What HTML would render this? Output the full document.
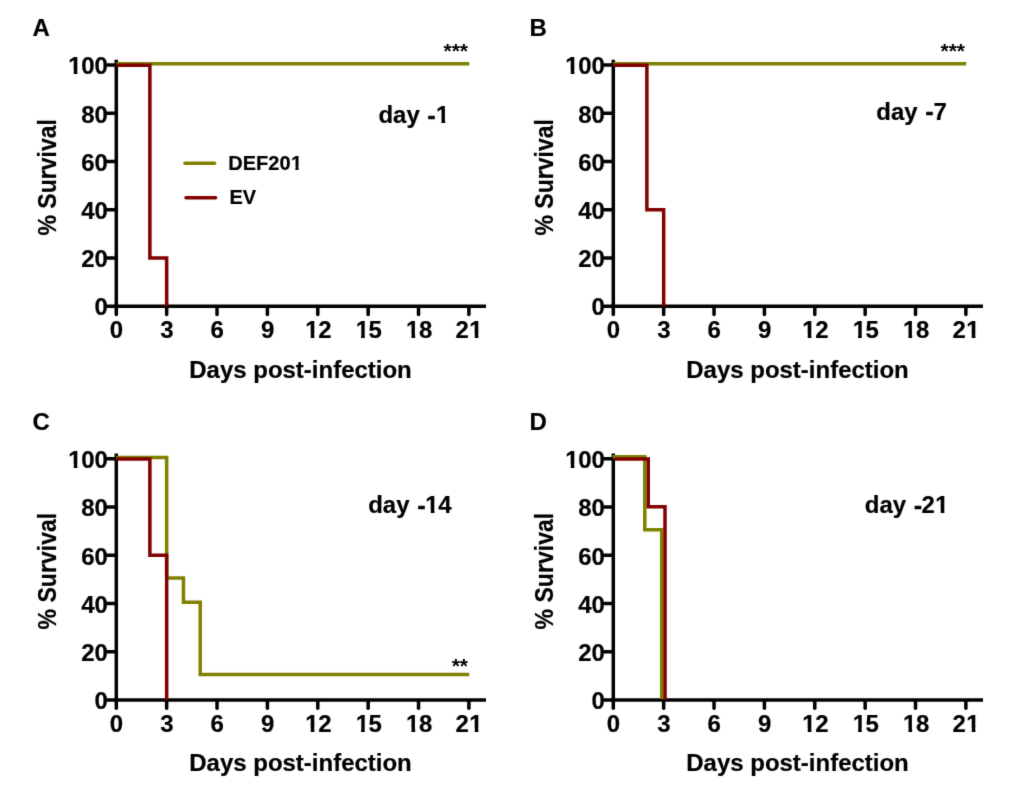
<!DOCTYPE html>
<html lang="en"><head><meta charset="utf-8"><title>Survival curves</title>
<style>
html,body{margin:0;padding:0;background:#fff;}
svg{display:block;will-change:transform;}
text{font-family:"Liberation Sans",Arial,Helvetica,sans-serif;font-weight:bold;font-size:24px;fill:#000;stroke:#000;stroke-width:0.2px;stroke-linejoin:round;}
text.s21{font-size:21px;stroke:none}tspan.hy{stroke-width:0.6px}text.s20{font-size:20px}
</style></head><body>
<svg width="1024" height="801" viewBox="0 0 1024 801">
<defs><filter id="soft" x="0" y="0" width="1024" height="801" filterUnits="userSpaceOnUse" color-interpolation-filters="sRGB"><feConvolveMatrix order="3" kernelMatrix="0.01134 0.08382 0.01134 0.08382 0.61935 0.08382 0.01134 0.08382 0.01134" edgeMode="duplicate" preserveAlpha="false"/></filter></defs>
<rect width="1024" height="801" fill="#fff"/>
<g filter="url(#soft)">
<rect width="1024" height="801" fill="#fff"/>
<g transform="translate(0,0)"><g fill="none" stroke="#000" stroke-width="3.5"><path d="M116.30,59.8V306.20"/><path d="M114.60,306.20H486"/><path d="M107.3,306.20H115.30" stroke-linecap="round"/><path d="M107.3,257.94H115.30" stroke-linecap="round"/><path d="M107.3,209.68H115.30" stroke-linecap="round"/><path d="M107.3,161.42H115.30" stroke-linecap="round"/><path d="M107.3,113.16H115.30" stroke-linecap="round"/><path d="M107.3,64.90H115.30" stroke-linecap="round"/><path d="M116.30,307.20V314.4" stroke-linecap="round"/><path d="M166.67,307.20V314.4" stroke-linecap="round"/><path d="M217.04,307.20V314.4" stroke-linecap="round"/><path d="M267.41,307.20V314.4" stroke-linecap="round"/><path d="M317.78,307.20V314.4" stroke-linecap="round"/><path d="M368.15,307.20V314.4" stroke-linecap="round"/><path d="M418.52,307.20V314.4" stroke-linecap="round"/><path d="M468.89,307.20V314.4" stroke-linecap="round"/></g><text transform="translate(107.90,315.10) scale(1,1.035)" text-anchor="end">0</text><text transform="translate(107.90,267.34) scale(1,1.035)" text-anchor="end">20</text><text transform="translate(107.90,219.08) scale(1,1.035)" text-anchor="end">40</text><text transform="translate(107.90,170.82) scale(1,1.035)" text-anchor="end">60</text><text transform="translate(107.90,122.56) scale(1,1.035)" text-anchor="end">80</text><text transform="translate(107.45,74.10) scale(1,1.035)" text-anchor="end"><tspan dx="0.45">1</tspan><tspan dx="-0.45">00</tspan></text><text transform="translate(116.50,338.15) scale(1,1.035)" text-anchor="middle">0</text><text transform="translate(166.87,338.15) scale(1,1.035)" text-anchor="middle">3</text><text transform="translate(217.24,338.15) scale(1,1.035)" text-anchor="middle">6</text><text transform="translate(267.61,338.15) scale(1,1.035)" text-anchor="middle">9</text><text transform="translate(317.98,338.15) scale(1,1.035)" text-anchor="middle"><tspan dx="0.45">1</tspan><tspan dx="-0.45">2</tspan></text><text transform="translate(368.35,338.15) scale(1,1.035)" text-anchor="middle"><tspan dx="0.45">1</tspan><tspan dx="-0.45">5</tspan></text><text transform="translate(418.72,338.15) scale(1,1.035)" text-anchor="middle"><tspan dx="0.45">1</tspan><tspan dx="-0.45">8</tspan></text><text transform="translate(469.09,338.15) scale(1,1.035)" text-anchor="middle">2<tspan dx="0.45">1</tspan></text><text transform="translate(300.50,377.60) scale(1,1.035)" text-anchor="middle">Days post-infection</text><text transform="translate(55.9,177.3) rotate(-90) scale(0.961,1.06)" text-anchor="middle">% Survival</text><path d="M116.13,63.80L469.23,63.80" fill="none" stroke="#808000" stroke-width="3.5" stroke-linejoin="miter"/><path d="M116.13,65.15L149.88,65.15L149.88,257.94L166.67,257.94L166.67,306.20" fill="none" stroke="#800000" stroke-width="3.5" stroke-linejoin="miter"/><text transform="translate(32.60,36.20) scale(1,1.01)">A</text><text transform="translate(378.40,123.20) scale(1,1.035)">day <tspan class="hy" dx="1.2" dy="0.6">-</tspan><tspan dx="0.45" dy="-0.6">1</tspan></text><text transform="translate(468.00,57.60) scale(1,1.0)" text-anchor="end" class="s21">***</text><path d="M185,163.2H214.6" stroke="#808000" stroke-width="3.5" stroke-linecap="round" fill="none"/><path d="M186,197.7H215.6" stroke="#800000" stroke-width="3.5" stroke-linecap="round" fill="none"/><text transform="translate(228.30,170.00) scale(1,1.035)" class="s20">DEF20<tspan dx="0.4">1</tspan></text><text transform="translate(229.50,204.20) scale(1,1.035)" class="s20">EV</text></g>
<g transform="translate(497.0,0)"><g fill="none" stroke="#000" stroke-width="3.5"><path d="M116.30,59.8V306.20"/><path d="M114.60,306.20H486"/><path d="M107.3,306.20H115.30" stroke-linecap="round"/><path d="M107.3,257.94H115.30" stroke-linecap="round"/><path d="M107.3,209.68H115.30" stroke-linecap="round"/><path d="M107.3,161.42H115.30" stroke-linecap="round"/><path d="M107.3,113.16H115.30" stroke-linecap="round"/><path d="M107.3,64.90H115.30" stroke-linecap="round"/><path d="M116.30,307.20V314.4" stroke-linecap="round"/><path d="M166.67,307.20V314.4" stroke-linecap="round"/><path d="M217.04,307.20V314.4" stroke-linecap="round"/><path d="M267.41,307.20V314.4" stroke-linecap="round"/><path d="M317.78,307.20V314.4" stroke-linecap="round"/><path d="M368.15,307.20V314.4" stroke-linecap="round"/><path d="M418.52,307.20V314.4" stroke-linecap="round"/><path d="M468.89,307.20V314.4" stroke-linecap="round"/></g><text transform="translate(107.90,315.10) scale(1,1.035)" text-anchor="end">0</text><text transform="translate(107.90,267.34) scale(1,1.035)" text-anchor="end">20</text><text transform="translate(107.90,219.08) scale(1,1.035)" text-anchor="end">40</text><text transform="translate(107.90,170.82) scale(1,1.035)" text-anchor="end">60</text><text transform="translate(107.90,122.56) scale(1,1.035)" text-anchor="end">80</text><text transform="translate(107.45,74.10) scale(1,1.035)" text-anchor="end"><tspan dx="0.45">1</tspan><tspan dx="-0.45">00</tspan></text><text transform="translate(116.50,338.15) scale(1,1.035)" text-anchor="middle">0</text><text transform="translate(166.87,338.15) scale(1,1.035)" text-anchor="middle">3</text><text transform="translate(217.24,338.15) scale(1,1.035)" text-anchor="middle">6</text><text transform="translate(267.61,338.15) scale(1,1.035)" text-anchor="middle">9</text><text transform="translate(317.98,338.15) scale(1,1.035)" text-anchor="middle"><tspan dx="0.45">1</tspan><tspan dx="-0.45">2</tspan></text><text transform="translate(368.35,338.15) scale(1,1.035)" text-anchor="middle"><tspan dx="0.45">1</tspan><tspan dx="-0.45">5</tspan></text><text transform="translate(418.72,338.15) scale(1,1.035)" text-anchor="middle"><tspan dx="0.45">1</tspan><tspan dx="-0.45">8</tspan></text><text transform="translate(469.09,338.15) scale(1,1.035)" text-anchor="middle">2<tspan dx="0.45">1</tspan></text><text transform="translate(300.50,377.60) scale(1,1.035)" text-anchor="middle">Days post-infection</text><text transform="translate(55.9,177.3) rotate(-90) scale(0.961,1.06)" text-anchor="middle">% Survival</text><path d="M116.13,63.80L469.23,63.80" fill="none" stroke="#808000" stroke-width="3.5" stroke-linejoin="miter"/><path d="M116.13,65.15L149.88,65.15L149.88,209.68L166.67,209.68L166.67,306.20" fill="none" stroke="#800000" stroke-width="3.5" stroke-linejoin="miter"/><text transform="translate(32.60,36.20) scale(1,1.01)">B</text><text transform="translate(379.30,119.60) scale(1,1.035)">day <tspan class="hy" dx="1.1" dy="0.6">-</tspan><tspan dy="-0.6">7</tspan></text><text transform="translate(468.00,57.60) scale(1,1.0)" text-anchor="end" class="s21">***</text></g>
<g transform="translate(0,393.8)"><g fill="none" stroke="#000" stroke-width="3.5"><path d="M116.30,59.8V306.20"/><path d="M114.60,306.20H486"/><path d="M107.3,306.20H115.30" stroke-linecap="round"/><path d="M107.3,257.94H115.30" stroke-linecap="round"/><path d="M107.3,209.68H115.30" stroke-linecap="round"/><path d="M107.3,161.42H115.30" stroke-linecap="round"/><path d="M107.3,113.16H115.30" stroke-linecap="round"/><path d="M107.3,64.90H115.30" stroke-linecap="round"/><path d="M116.30,307.20V314.4" stroke-linecap="round"/><path d="M166.67,307.20V314.4" stroke-linecap="round"/><path d="M217.04,307.20V314.4" stroke-linecap="round"/><path d="M267.41,307.20V314.4" stroke-linecap="round"/><path d="M317.78,307.20V314.4" stroke-linecap="round"/><path d="M368.15,307.20V314.4" stroke-linecap="round"/><path d="M418.52,307.20V314.4" stroke-linecap="round"/><path d="M468.89,307.20V314.4" stroke-linecap="round"/></g><text transform="translate(107.90,315.10) scale(1,1.035)" text-anchor="end">0</text><text transform="translate(107.90,267.34) scale(1,1.035)" text-anchor="end">20</text><text transform="translate(107.90,219.08) scale(1,1.035)" text-anchor="end">40</text><text transform="translate(107.90,170.82) scale(1,1.035)" text-anchor="end">60</text><text transform="translate(107.90,122.56) scale(1,1.035)" text-anchor="end">80</text><text transform="translate(107.45,74.10) scale(1,1.035)" text-anchor="end"><tspan dx="0.45">1</tspan><tspan dx="-0.45">00</tspan></text><text transform="translate(116.50,338.15) scale(1,1.035)" text-anchor="middle">0</text><text transform="translate(166.87,338.15) scale(1,1.035)" text-anchor="middle">3</text><text transform="translate(217.24,338.15) scale(1,1.035)" text-anchor="middle">6</text><text transform="translate(267.61,338.15) scale(1,1.035)" text-anchor="middle">9</text><text transform="translate(317.98,338.15) scale(1,1.035)" text-anchor="middle"><tspan dx="0.45">1</tspan><tspan dx="-0.45">2</tspan></text><text transform="translate(368.35,338.15) scale(1,1.035)" text-anchor="middle"><tspan dx="0.45">1</tspan><tspan dx="-0.45">5</tspan></text><text transform="translate(418.72,338.15) scale(1,1.035)" text-anchor="middle"><tspan dx="0.45">1</tspan><tspan dx="-0.45">8</tspan></text><text transform="translate(469.09,338.15) scale(1,1.035)" text-anchor="middle">2<tspan dx="0.45">1</tspan></text><text transform="translate(300.50,377.60) scale(1,1.035)" text-anchor="middle">Days post-infection</text><text transform="translate(55.9,177.3) rotate(-90) scale(0.961,1.06)" text-anchor="middle">% Survival</text><path d="M116.13,63.60L166.67,63.60L166.67,184.25L183.46,184.25L183.46,208.38L200.25,208.38L200.25,280.77L469.23,280.77" fill="none" stroke="#808000" stroke-width="3.5" stroke-linejoin="miter"/><path d="M116.13,65.15L149.88,65.15L149.88,161.42L166.67,161.42L166.67,306.20" fill="none" stroke="#800000" stroke-width="3.5" stroke-linejoin="miter"/><text transform="translate(32.60,36.20) scale(1,1.01)">C</text><text transform="translate(368.20,119.30) scale(1,1.035)">day <tspan class="hy" dx="1.3" dy="0.6">-</tspan><tspan dx="-0.15" dy="-0.6">1</tspan><tspan dx="-0.45">4</tspan></text><text transform="translate(468.00,279.10) scale(1,1.0)" text-anchor="end" class="s21">**</text></g>
<g transform="translate(497.0,393.8)"><g fill="none" stroke="#000" stroke-width="3.5"><path d="M116.30,59.8V306.20"/><path d="M114.60,306.20H486"/><path d="M107.3,306.20H115.30" stroke-linecap="round"/><path d="M107.3,257.94H115.30" stroke-linecap="round"/><path d="M107.3,209.68H115.30" stroke-linecap="round"/><path d="M107.3,161.42H115.30" stroke-linecap="round"/><path d="M107.3,113.16H115.30" stroke-linecap="round"/><path d="M107.3,64.90H115.30" stroke-linecap="round"/><path d="M116.30,307.20V314.4" stroke-linecap="round"/><path d="M166.67,307.20V314.4" stroke-linecap="round"/><path d="M217.04,307.20V314.4" stroke-linecap="round"/><path d="M267.41,307.20V314.4" stroke-linecap="round"/><path d="M317.78,307.20V314.4" stroke-linecap="round"/><path d="M368.15,307.20V314.4" stroke-linecap="round"/><path d="M418.52,307.20V314.4" stroke-linecap="round"/><path d="M468.89,307.20V314.4" stroke-linecap="round"/></g><text transform="translate(107.90,315.10) scale(1,1.035)" text-anchor="end">0</text><text transform="translate(107.90,267.34) scale(1,1.035)" text-anchor="end">20</text><text transform="translate(107.90,219.08) scale(1,1.035)" text-anchor="end">40</text><text transform="translate(107.90,170.82) scale(1,1.035)" text-anchor="end">60</text><text transform="translate(107.90,122.56) scale(1,1.035)" text-anchor="end">80</text><text transform="translate(107.45,74.10) scale(1,1.035)" text-anchor="end"><tspan dx="0.45">1</tspan><tspan dx="-0.45">00</tspan></text><text transform="translate(116.50,338.15) scale(1,1.035)" text-anchor="middle">0</text><text transform="translate(166.87,338.15) scale(1,1.035)" text-anchor="middle">3</text><text transform="translate(217.24,338.15) scale(1,1.035)" text-anchor="middle">6</text><text transform="translate(267.61,338.15) scale(1,1.035)" text-anchor="middle">9</text><text transform="translate(317.98,338.15) scale(1,1.035)" text-anchor="middle"><tspan dx="0.45">1</tspan><tspan dx="-0.45">2</tspan></text><text transform="translate(368.35,338.15) scale(1,1.035)" text-anchor="middle"><tspan dx="0.45">1</tspan><tspan dx="-0.45">5</tspan></text><text transform="translate(418.72,338.15) scale(1,1.035)" text-anchor="middle"><tspan dx="0.45">1</tspan><tspan dx="-0.45">8</tspan></text><text transform="translate(469.09,338.15) scale(1,1.035)" text-anchor="middle">2<tspan dx="0.45">1</tspan></text><text transform="translate(300.50,377.60) scale(1,1.035)" text-anchor="middle">Days post-infection</text><text transform="translate(55.9,177.3) rotate(-90) scale(0.961,1.06)" text-anchor="middle">% Survival</text><path d="M115.60,62.90H147.80V135.90H164.70V305.10" fill="none" stroke="#808000" stroke-width="3.5"/><path d="M117.40,65.20H151.25V112.95H168.00V306.20" fill="none" stroke="#800000" stroke-width="3.5"/><text transform="translate(32.60,36.20) scale(1,1.01)">D</text><text transform="translate(367.80,119.30) scale(1,1.035)">day <tspan class="hy" dx="1.2" dy="0.6">-</tspan><tspan dx="-0.50" dy="-0.6">2</tspan><tspan dx="0.45">1</tspan></text></g>
<g fill="#fff" stroke="none"><rect x="68.93" y="70.42" width="4.79" height="5.23"/><rect x="77.42" y="70.42" width="4.49" height="5.23"/><rect x="305.92" y="334.47" width="4.79" height="5.23"/><rect x="314.41" y="334.47" width="4.49" height="5.23"/><rect x="356.29" y="334.47" width="4.79" height="5.23"/><rect x="364.78" y="334.47" width="4.49" height="5.23"/><rect x="406.66" y="334.47" width="4.79" height="5.23"/><rect x="415.15" y="334.47" width="4.49" height="5.23"/><rect x="469.93" y="334.47" width="4.79" height="5.23"/><rect x="478.41" y="334.47" width="4.49" height="5.23"/><rect x="436.66" y="119.52" width="4.79" height="5.23"/><rect x="445.14" y="119.52" width="4.49" height="5.23"/><rect x="291.29" y="166.74" width="4.11" height="4.81"/><rect x="298.54" y="166.74" width="3.85" height="4.81"/><rect x="565.93" y="70.42" width="4.79" height="5.23"/><rect x="574.42" y="70.42" width="4.49" height="5.23"/><rect x="802.92" y="334.47" width="4.79" height="5.23"/><rect x="811.41" y="334.47" width="4.49" height="5.23"/><rect x="853.29" y="334.47" width="4.79" height="5.23"/><rect x="861.78" y="334.47" width="4.49" height="5.23"/><rect x="903.66" y="334.47" width="4.79" height="5.23"/><rect x="912.15" y="334.47" width="4.49" height="5.23"/><rect x="966.93" y="334.47" width="4.79" height="5.23"/><rect x="975.41" y="334.47" width="4.49" height="5.23"/><rect x="68.93" y="464.22" width="4.79" height="5.23"/><rect x="77.42" y="464.22" width="4.49" height="5.23"/><rect x="305.92" y="728.27" width="4.79" height="5.23"/><rect x="314.41" y="728.27" width="4.49" height="5.23"/><rect x="356.29" y="728.27" width="4.79" height="5.23"/><rect x="364.78" y="728.27" width="4.49" height="5.23"/><rect x="406.66" y="728.27" width="4.79" height="5.23"/><rect x="415.15" y="728.27" width="4.49" height="5.23"/><rect x="469.93" y="728.27" width="4.79" height="5.23"/><rect x="478.41" y="728.27" width="4.49" height="5.23"/><rect x="425.96" y="509.42" width="4.79" height="5.23"/><rect x="434.44" y="509.42" width="4.49" height="5.23"/><rect x="565.93" y="464.22" width="4.79" height="5.23"/><rect x="574.42" y="464.22" width="4.49" height="5.23"/><rect x="802.92" y="728.27" width="4.79" height="5.23"/><rect x="811.41" y="728.27" width="4.49" height="5.23"/><rect x="853.29" y="728.27" width="4.79" height="5.23"/><rect x="861.78" y="728.27" width="4.49" height="5.23"/><rect x="903.66" y="728.27" width="4.79" height="5.23"/><rect x="912.15" y="728.27" width="4.49" height="5.23"/><rect x="966.93" y="728.27" width="4.79" height="5.23"/><rect x="975.41" y="728.27" width="4.49" height="5.23"/><rect x="935.90" y="509.42" width="4.79" height="5.23"/><rect x="944.38" y="509.42" width="4.49" height="5.23"/></g>
</g>
</svg>
</body></html>
